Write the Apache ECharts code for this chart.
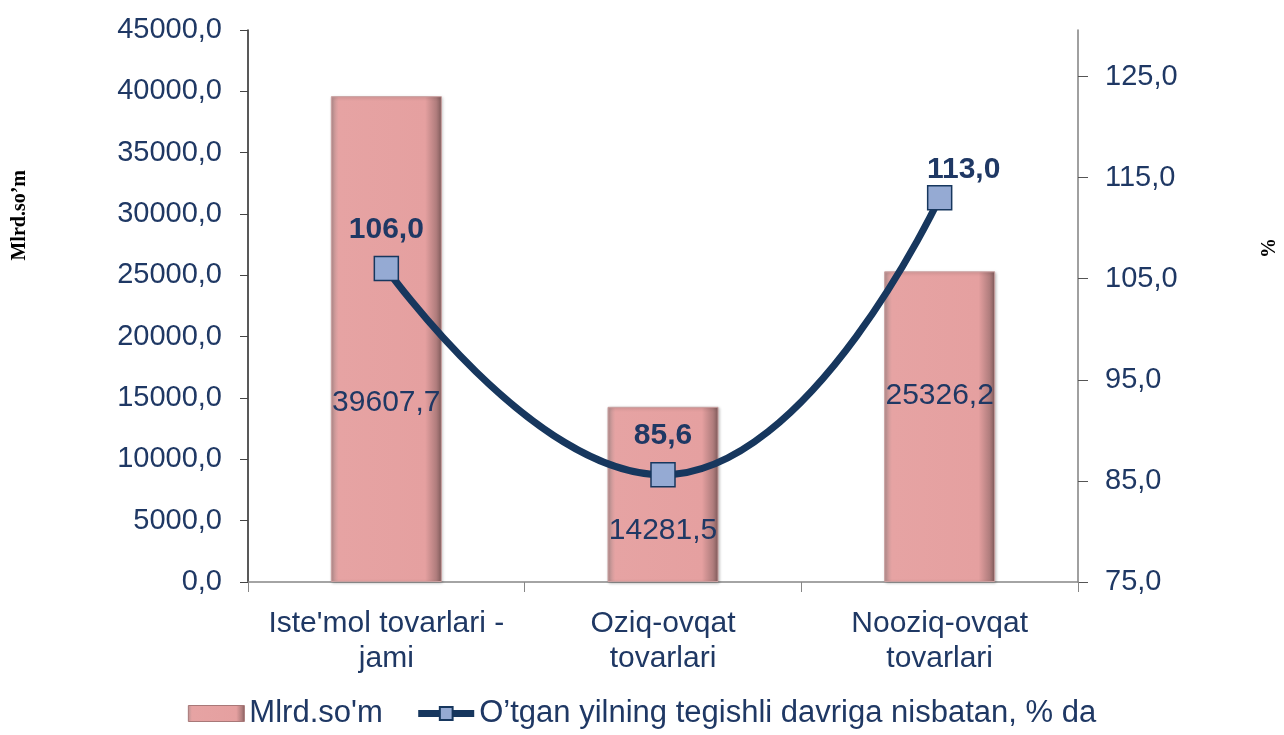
<!DOCTYPE html>
<html>
<head>
<meta charset="utf-8">
<script src="https://cdn.jsdelivr.net/npm/echarts@6/dist/echarts.min.js"></script>
<style>
  html, body { margin: 0; padding: 0; background: #fff; }
  #chart { width: 1284px; height: 735px; }
</style>
</head>
<body>
<div id="chart"></div>
<script>
const categories = ["Iste'mol tovarlari -\njami", 'Oziq-ovqat\ntovarlari', 'Nooziq-ovqat\ntovarlari']
const amounts = [39607.7, 14281.5, 25326.2]
const growth = [106.0, 85.6, 113.0]
const barName = "Mlrd.so'm"
const lineName = 'O’tgan yilning tegishli davriga nisbatan, % da'

const textColor = '#1F3864'
const lineColor = '#17375E'
const fontFamily = '"Liberation Sans", Arial, sans-serif'
const fmt = v => v.toFixed(1).replace('.', ',')

// label offsets (Excel placed them by hand)
const barLabelDist = [164, 36, 171]
const lineLabelOffset = [[0, 3], [0, 3], [24, 14]]

const barColor = new echarts.graphic.LinearGradient(0, 0, 1, 0, [
  { offset: 0, color: '#b99393' },
  { offset: 0.07, color: '#e6a3a3' },
  { offset: 0.85, color: '#e5a0a0' },
  { offset: 0.95, color: '#b07d7d' },
  { offset: 1, color: '#7e5a5a' }
])

const myChart = echarts.init(document.getElementById('chart'))

const option = {
  animation: false,
  textStyle: { fontFamily: fontFamily },
  grid: { left: 248, right: 206, top: 30, bottom: 153 },
  legend: {
    bottom: 1,
    left: 'center',
    itemWidth: 56,
    itemHeight: 16,
    itemGap: 32,
    textStyle: { color: textColor, fontSize: 31, fontFamily: fontFamily },
    data: [
      { name: barName, icon: 'rect', itemStyle: { borderColor: '#a87878', borderWidth: 1 } },
      { name: lineName, lineStyle: { width: 7, color: lineColor } }
    ]
  },
  graphic: [
    {
      type: 'text', left: 10, top: 170,
      rotation: Math.PI / 2,
      style: { text: 'Mlrd.so’m', fill: '#000', font: 'bold 20px "Liberation Serif", "Times New Roman", serif' }
    },
    {
      type: 'text', right: 4, top: 238,
      rotation: Math.PI / 2,
      style: { text: '%', fill: '#000', font: 'bold 20px "Liberation Serif", "Times New Roman", serif' }
    }
  ],
  xAxis: {
    type: 'category',
    data: categories,
    axisLine: { lineStyle: { color: '#868686', width: 1.5 } },
    axisTick: { show: true, length: 10, lineStyle: { color: '#868686' } },
    axisLabel: { color: textColor, fontSize: 30, lineHeight: 35, margin: 24, interval: 0 }
  },
  yAxis: [
    {
      type: 'value',
      min: 0, max: 45000, interval: 5000,
      splitLine: { show: false },
      axisLine: { show: true, lineStyle: { color: '#222', width: 1.5 } },
      axisTick: { show: true, length: 8, lineStyle: { color: '#444' } },
      axisLabel: { color: textColor, fontSize: 29, margin: 26, formatter: fmt }
    },
    {
      type: 'value',
      min: 75, max: 129.6, interval: 10,
      splitLine: { show: false },
      axisLine: { show: true, lineStyle: { color: '#808080', width: 1.5 } },
      axisTick: { show: true, length: 10, lineStyle: { color: '#555' } },
      axisLabel: {
        color: textColor, fontSize: 29, margin: 27, showMaxLabel: false,
        formatter: v => ((v - 75) % 10 === 0 ? fmt(v) : '')
      }
    }
  ],
  series: [
    {
      name: barName,
      type: 'bar',
      barWidth: 111,
      data: amounts.map((v, i) => ({
        value: v,
        label: { distance: barLabelDist[i] }
      })),
      itemStyle: {
        color: barColor,
        borderColor: '#c9a0a0',
        borderWidth: 1,
        shadowColor: 'rgba(0,0,0,0.25)',
        shadowBlur: 3,
        shadowOffsetX: 1,
        shadowOffsetY: 1
      },
      label: {
        show: true,
        position: 'insideBottom',
        color: textColor,
        fontSize: 30,
        formatter: p => fmt(p.value)
      }
    },
    {
      name: lineName,
      type: 'line',
      yAxisIndex: 1,
      smooth: 0.5,
      symbol: 'rect',
      symbolSize: 24,
      data: growth.map((v, i) => ({
        value: v,
        label: { offset: lineLabelOffset[i] }
      })),
      lineStyle: { color: lineColor, width: 7 },
      itemStyle: { color: '#95AAD3', borderColor: lineColor, borderWidth: 1.5 },
      label: {
        show: true,
        position: 'top',
        distance: 14,
        color: textColor,
        fontSize: 30,
        fontWeight: 'bold',
        formatter: p => fmt(p.value)
      },
      z: 5
    }
  ]
}

myChart.setOption(option)
window.addEventListener('resize', () => myChart.resize())
</script>
</body>
</html>
